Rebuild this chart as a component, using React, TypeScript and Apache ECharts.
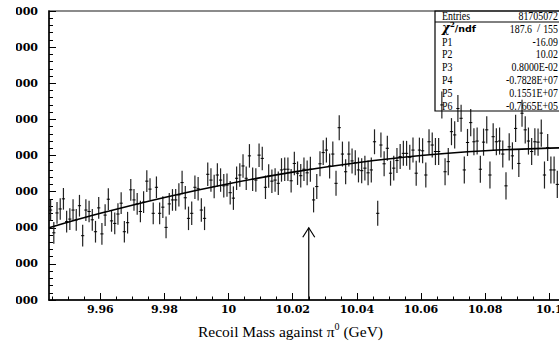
import React, { useEffect, useRef } from "react";
import * as echarts from "echarts";

// Histogram binning (bin edges at multiples of 0.001 GeV)
const BIN_START = 9.944;
const BIN_WIDTH = 0.001;

// Bin contents (159 bins, 9.944 .. 10.103 GeV)
const COUNTS: number[] = [
  14490, 13860, 14410, 14520, 14800, 14170, 14240, 14490, 14220, 14610,
  13780, 14490, 14450, 14220, 13890, 14550, 13830, 14350, 14790, 14190,
  14120, 14380, 14680, 13890, 14140, 15050, 14770, 14660, 14450, 14710,
  15290, 15070, 14400, 15120, 14400, 14570, 14010, 14660, 14770,
  14770, 14910, 15250, 14830, 14260, 14400, 15120, 15080, 14490, 14260,
  15480, 15320, 15140, 15460, 15320, 15160, 15180, 14970, 14820, 15370,
  15460, 15710, 15370, 15990, 15340, 15320, 16010, 15920, 15120, 15430,
  15290, 15320, 15230, 15600, 15620, 15620, 15300, 15780, 15510, 15440,
  15620, 15520, 15620, 14770, 15140, 15770, 16080, 16150, 15710, 16040,
  15230, 16770, 16040, 15550, 16040, 15850, 15800, 15600, 15580, 15650,
  15520, 15600, 16380, 14400, 16290, 15770, 16200, 15510, 15650, 15860,
  15970, 16060, 16060, 15950, 16150, 15510, 16150, 16130, 15460, 16380,
  16290, 16110, 16110, 17400, 15550, 15830, 16660, 16570, 17300, 17030,
  15600, 16360, 16910, 16380, 16400, 15620, 16370, 16710, 15460, 16520,
  16380, 16400, 16040, 15160, 16240, 15990, 16750, 15780, 17170, 16710,
  16400, 16110, 16380, 16370, 16620, 15460, 16220, 15600, 15600, 15200,
];

// Error bar half-lengths read per block of 40 bins
const ERROR_BY_BLOCK = [300, 325, 345, 375];
const BLOCK_SIZE = 40;

// Fitted curve
const FIT_X = [9.944, 9.96, 9.98, 10.0, 10.02, 10.04, 10.06, 10.08, 10.1, 10.116];
const FIT_Y = [14000, 14400, 14840, 15220, 15540, 15800, 16000, 16130, 16205, 16220];

// Arrow marker
const ARROW_X = 10.025;
const ARROW_TOP = 14000;

// Axes
const X_MIN = 9.944;
const X_MAX = 10.116;
const Y_MIN = 12000;
const Y_MAX = 20000;
const Y_STEP = 1000;
const X_MAJOR = [9.96, 9.98, 10, 10.02, 10.04, 10.06, 10.08, 10.1];
const X_LABELS = ["9.96", "9.98", "10", "10.02", "10.04", "10.06", "10.08", "10.1"];
const X_MINOR = [
  9.945, 9.95, 9.955, 9.965, 9.97, 9.975, 9.985, 9.99, 9.995, 10.005, 10.01,
  10.015, 10.025, 10.03, 10.035, 10.045, 10.05, 10.055, 10.065, 10.07, 10.075,
  10.085, 10.09, 10.095, 10.105, 10.11, 10.115,
];
const X_TITLE_MAIN = "Recoil Mass against π";
const X_TITLE_SUP = "0";
const X_TITLE_END = " (GeV)";

// Statistics box
const STAT_LABELS = ["Entries", "", "P1", "P2", "P3", "P4", "P5", "P6"];
const STAT_VALUES = ["81705072", "", "-16.09", "10.02", "0.8000E-02", "-0.7828E+07", "0.1551E+07", "-0.7665E+05"];
const CHI2 = "187.6";
const NDF = "155";

const SERIF = "'Liberation Serif', 'Times New Roman', serif";
const BOLD_SERIF = "'DejaVu Serif', serif";

export default function App() {
  const ref = useRef<HTMLDivElement>(null);

  useEffect(() => {
    if (!ref.current) return;
    const chart = echarts.init(ref.current, null, { renderer: "svg" });

    const points = COUNTS.map((c, i) => [
      BIN_START + BIN_WIDTH * (i + 0.5),
      c,
      ERROR_BY_BLOCK[Math.min(ERROR_BY_BLOCK.length - 1, Math.floor(i / BLOCK_SIZE))],
    ]);

    const rowY = [15.5, 28.4, 41.3, 54.2, 67.1, 80, 92.9, 105.8];
    const labelX = 426;
    const valueX = 542;
    const condense = 0.86;

    const statTexts: any[] = [];
    STAT_LABELS.forEach((t, i) => {
      if (!t) return;
      statTexts.push({
        type: "text",
        x: labelX,
        y: rowY[i],
        scaleX: condense,
        z: 20,
        style: { text: t, fontFamily: SERIF, fontSize: 11.5, fill: "#000", align: "left", verticalAlign: "middle" },
      });
    });
    STAT_VALUES.forEach((t, i) => {
      if (!t) return;
      statTexts.push({
        type: "text",
        x: valueX,
        y: rowY[i],
        scaleX: condense,
        z: 20,
        style: { text: t, fontFamily: SERIF, fontSize: 11.5, fill: "#000", align: "right", verticalAlign: "middle" },
      });
    });
    statTexts.push({
      type: "text",
      x: labelX,
      y: rowY[1],
      z: 20,
      style: {
        text: "{c|χ}{s|2}{n|/ndf}",
        align: "left",
        verticalAlign: "middle",
        rich: {
          c: { fontFamily: BOLD_SERIF, fontStyle: "italic", fontWeight: "bold", fontSize: 12, fill: "#000", lineHeight: 14 },
          s: { fontFamily: BOLD_SERIF, fontWeight: "bold", fontSize: 7, fill: "#000", verticalAlign: "top" },
          n: { fontFamily: "'DejaVu Sans', sans-serif", fontWeight: "bold", fontSize: 9.5, fill: "#000" },
        },
      },
    });
    statTexts.push({
      type: "text", x: 516, y: rowY[1], scaleX: condense, z: 20,
      style: { text: CHI2, fontFamily: SERIF, fontSize: 11.5, fill: "#000", align: "right", verticalAlign: "middle" },
    });
    statTexts.push({
      type: "text", x: 522.5, y: rowY[1], z: 20,
      style: { text: "/", fontFamily: SERIF, fontSize: 11.5, fill: "#000", align: "center", verticalAlign: "middle" },
    });
    statTexts.push({
      type: "text", x: valueX, y: rowY[1], scaleX: condense, z: 20,
      style: { text: NDF, fontFamily: SERIF, fontSize: 11.5, fill: "#000", align: "right", verticalAlign: "middle" },
    });

    const option: any = {
      animation: false,
      backgroundColor: "#fff",
      grid: {
        left: 33,
        top: 11,
        width: 551.6,
        height: 289,
        outerBoundsMode: "none",
        containLabel: false,
        show: true,
        borderColor: "#666",
        borderWidth: 1.5,
        backgroundColor: "transparent",
      },
      xAxis: [
        {
          type: "value",
          min: X_MIN,
          max: X_MAX,
          position: "bottom",
          axisLine: { show: true, onZero: false, lineStyle: { color: "#000", width: 1.5 } },
          axisTick: { show: true, inside: true, length: 7, customValues: X_MAJOR, lineStyle: { color: "#000", width: 1 } },
          axisLabel: {
            show: true,
            customValues: X_MAJOR,
            margin: 4,
            fontFamily: BOLD_SERIF,
            fontWeight: "bold",
            fontSize: 11,
            color: "#000",
            formatter: (v: number) => {
              const idx = X_MAJOR.findIndex((m) => Math.abs(m - v) < 1e-9);
              return idx >= 0 ? X_LABELS[idx] : "";
            },
          },
          splitLine: { show: false },
        },
        {
          type: "value",
          min: X_MIN,
          max: X_MAX,
          position: "bottom",
          axisLine: { show: false, onZero: false },
          axisTick: { show: true, inside: true, length: 3.5, customValues: X_MINOR, lineStyle: { color: "#000", width: 1 } },
          axisLabel: { show: false },
          splitLine: { show: false },
        },
      ],
      yAxis: {
        type: "value",
        min: Y_MIN,
        max: Y_MAX,
        interval: Y_STEP,
        axisLine: { show: true, onZero: false, lineStyle: { color: "#000", width: 1.5 } },
        axisTick: { show: true, inside: true, length: 7, lineStyle: { color: "#000", width: 1 } },
        minorTick: { show: true, splitNumber: 5, length: 4, lineStyle: { color: "#000", width: 1 } },
        minorSplitLine: { show: false },
        axisLabel: {
          margin: 11,
          fontFamily: BOLD_SERIF,
          fontWeight: "bold",
          fontSize: 11,
          color: "#000",
          formatter: (v: number) => String(v),
        },
        splitLine: { show: false },
      },
      series: [
        {
          type: "custom",
          xAxisIndex: 0,
          yAxisIndex: 0,
          data: points,
          encode: { x: 0, y: 1 },
          z: 3,
          renderItem: (params: any, api: any) => {
            const x = api.value(0);
            const y = api.value(1);
            const e = api.value(2);
            const top = api.coord([x, y + e]);
            const bot = api.coord([x, y - e]);
            const l = api.coord([x - BIN_WIDTH / 2, y]);
            const r = api.coord([x + BIN_WIDTH / 2, y]);
            return {
              type: "group",
              children: [
                { type: "line", shape: { x1: top[0], y1: top[1], x2: bot[0], y2: bot[1] }, style: { stroke: "#222", lineWidth: 1.2 } },
                { type: "line", shape: { x1: l[0], y1: l[1], x2: r[0], y2: r[1] }, style: { stroke: "#000", lineWidth: 1 } },
              ],
            };
          },
        },
        {
          type: "line",
          xAxisIndex: 0,
          yAxisIndex: 0,
          data: FIT_X.map((x, i) => [x, FIT_Y[i]]),
          smooth: 0.4,
          showSymbol: false,
          symbol: "none",
          z: 4,
          lineStyle: { color: "#000", width: 1.6 },
        },
        {
          type: "custom",
          xAxisIndex: 0,
          yAxisIndex: 0,
          data: [[ARROW_X, ARROW_TOP, Y_MIN]],
          encode: { x: 0, y: 1 },
          z: 5,
          renderItem: (params: any, api: any) => {
            const tip = api.coord([api.value(0), api.value(1)]);
            const base = api.coord([api.value(0), api.value(2)]);
            return {
              type: "group",
              children: [
                { type: "line", shape: { x1: base[0], y1: base[1], x2: tip[0], y2: tip[1] }, style: { stroke: "#000", lineWidth: 1.2 } },
                { type: "polyline", shape: { points: [[tip[0] - 6, tip[1] + 9.5], [tip[0], tip[1]], [tip[0] + 6, tip[1] + 9.5]] }, style: { stroke: "#000", lineWidth: 1.2, fill: "none" } },
              ],
            };
          },
        },
      ],
      graphic: [
        {
          type: "rect",
          z: 20,
          shape: { x: 419, y: 11, width: 220, height: 100 },
          style: { stroke: "#000", lineWidth: 1.2, fill: "none" },
        },
        {
          type: "line",
          z: 20,
          shape: { x1: 419, y1: 22, x2: 639, y2: 22 },
          style: { stroke: "#000", lineWidth: 1 },
        },
        ...statTexts,
        {
          type: "text",
          x: 274.5,
          y: 331,
          z: 20,
          style: {
            text: `{a|${X_TITLE_MAIN}}{s|${X_TITLE_SUP}}{a|${X_TITLE_END}}`,
            align: "center",
            verticalAlign: "middle",
            rich: {
              a: { fontFamily: SERIF, fontSize: 15.5, fill: "#000", lineHeight: 20 },
              s: { fontFamily: SERIF, fontSize: 10, fill: "#000", verticalAlign: "top", lineHeight: 12 },
            },
          },
        },
      ],
    };

    chart.setOption(option);
    return () => chart.dispose();
  }, []);

  return (
    <div style={{ position: "fixed", left: 0, top: 0, width: 559, height: 347, overflow: "hidden", background: "#fff" }}>
      <div ref={ref} style={{ position: "absolute", left: 16, top: 0, width: 624, height: 347 }} />
    </div>
  );
}
